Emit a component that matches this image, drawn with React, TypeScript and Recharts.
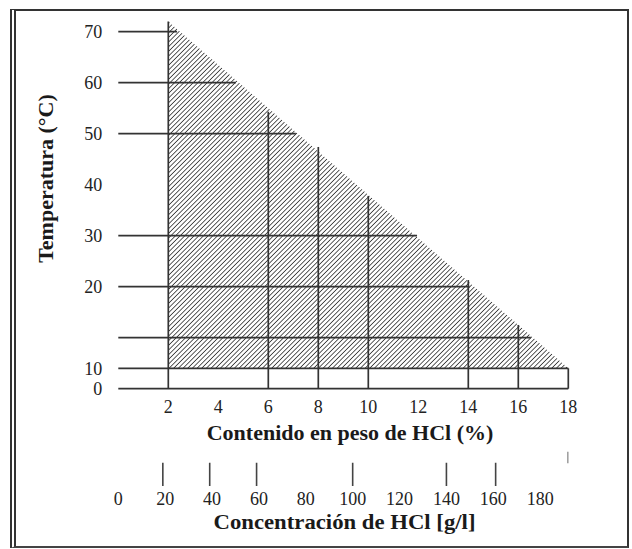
import { ComposedChart, Area, Scatter, XAxis, YAxis, ReferenceLine } from "recharts";

// % HCl axis
const pctTicks = [2, 4, 6, 8, 10, 12, 14, 16, 18];
// temperature axis: the bottom of the scale is squeezed, so the labels sit on their own positions
const tempTickPos = [0, 4, 10, 20, 30, 40, 50, 60, 70];
const tempTickLabels = ["0", "10", "", "20", "30", "40", "50", "60", "70"];
// g/l axis
const concTicks = [0, 20, 40, 60, 80, 100, 120, 140, 160, 180];
const concMarks = [19, 39, 59, 100, 140, 161, 192];
const concMarkLevel = [0.35, 0.35, 0.35, 0.35, 0.35, 0.35, 0.82];

// hatched zone: upper edge from (2 %, 72) down to (18 %, 4), floor at 4
const zonePct = [2, 18];
const zoneTop = [72, 4];
const zoneFloor = 4;

// horizontal rules: level and where they stop (in %)
const hLevels = [70, 60, 50, 30, 20, 10, 4, 0];
const hEnds = [2.35, 4.7, 7.1, 11.95, 14.05, 16.5, 18, 18];

// vertical rules: % position and top level
const vPos = [2, 6, 8, 10, 14, 16, 18];
const vTops = [72, 54.3, 47.4, 37.8, 21.3, 12.5, 4];

const FONT = "'Liberation Serif', 'Times New Roman', serif";
const INK = "#333";

const zoneData = zonePct.map((p, i) => ({ pct: p, temp: zoneTop[i] }));
const markData = concMarks.map((c, i) => ({ conc: c, level: concMarkLevel[i] }));

function MarkShape(props: any) {
  const { cx, cy, payload } = props;
  const half = payload.level > 0.5 ? 5.8 : 11.6;
  return <line x1={cx} x2={cx} y1={cy - half} y2={cy + half} stroke="#444" strokeWidth={1.6} />;
}

export default function App() {
  const tickStyle = { fontSize: 18, fill: "#222", fontFamily: FONT };
  const titleProps = {
    fontSize: 22,
    fontWeight: "bold" as const,
    fontFamily: FONT,
    fill: "#1a1a1a",
    textAnchor: "middle" as const,
  };

  return (
    <div style={{ position: "absolute", left: 0, top: 0, width: 632, height: 549, background: "#fff" }}>
      <div
        style={{
          position: "absolute",
          left: 10,
          top: 9,
          width: 619,
          height: 539,
          boxSizing: "border-box",
          borderTop: "2px solid #333",
          borderRight: "2px solid #333",
          borderBottom: "2px solid #444",
          borderLeft: "6px double #333",
        }}
      />

      {/* main diagram: temperature vs % HCl */}
      <div style={{ position: "absolute", left: 0, top: 0 }}>
        <ComposedChart
          width={632}
          height={549}
          margin={{ top: 21.5, right: 63.7, bottom: 86.3, left: 58.3 }}
        >
          <defs>
            <pattern
              id="hatch"
              patternUnits="userSpaceOnUse"
              width={3.3}
              height={3.3}
              patternTransform="rotate(45)"
            >
              <line x1={0} y1={0} x2={0} y2={3.3} stroke="#333" strokeWidth={1.6} />
            </pattern>
          </defs>

          <XAxis
            xAxisId="pct"
            dataKey="pct"
            type="number"
            domain={[0, 18]}
            allowDataOverflow
            ticks={pctTicks}
            interval={0}
            height={74}
            axisLine={false}
            tickLine={false}
            tickSize={0}
            tickMargin={12}
            tick={tickStyle}
          />
          <YAxis
            type="number"
            domain={[0, 72]}
            allowDataOverflow
            ticks={tempTickPos}
            interval={0}
            width={60}
            axisLine={false}
            tickLine={false}
            tickSize={0}
            tickMargin={16}
            tick={tickStyle}
            tickFormatter={(v: number) => tempTickLabels[tempTickPos.indexOf(v)] ?? ""}
          />

          <Area
            xAxisId="pct"
            data={zoneData}
            dataKey="temp"
            type="linear"
            baseValue={zoneFloor}
            stroke="none"
            fill="url(#hatch)"
            fillOpacity={1}
            isAnimationActive={false}
            activeDot={false}
            dot={false}
          />

          {hLevels.map((t, i) => (
            <ReferenceLine
              key={`h${i}`}
              xAxisId="pct"
              segment={[
                { x: 0, y: t },
                { x: hEnds[i], y: t },
              ]}
              stroke={INK}
              strokeWidth={1.7}
            />
          ))}
          {vPos.map((p, i) => (
            <ReferenceLine
              key={`v${i}`}
              xAxisId="pct"
              segment={[
                { x: p, y: 0 },
                { x: p, y: vTops[i] },
              ]}
              stroke={INK}
              strokeWidth={1.7}
            />
          ))}

          <text x={350} y={440} {...titleProps}>
            Contenido en peso de HCl (%)
          </text>
          <text transform="translate(53,178.5) rotate(-90)" {...titleProps}>
            Temperatura (°C)
          </text>
        </ComposedChart>
      </div>

      {/* second scale: concentration in g/l */}
      <div style={{ position: "absolute", left: 0, top: 0 }}>
        <ComposedChart
          width={632}
          height={549}
          margin={{ top: 451, right: 63.7, bottom: 32, left: 118.3 }}
        >
          <XAxis
            xAxisId="conc"
            dataKey="conc"
            type="number"
            domain={[0, 192]}
            allowDataOverflow
            ticks={concTicks}
            interval={0}
            height={30}
            axisLine={false}
            tickLine={false}
            tickSize={0}
            tickMargin={5.5}
            tick={tickStyle}
          />
          <YAxis yAxisId="band" type="number" domain={[0, 1]} hide />
          <Scatter
            xAxisId="conc"
            yAxisId="band"
            data={markData}
            dataKey="level"
            shape={MarkShape}
            isAnimationActive={false}
          />
          <text
            x={344.5}
            y={528.5}
            {...titleProps}
            fontSize={21}
            textLength={262}
            lengthAdjust="spacingAndGlyphs"
          >
            Concentración de HCl [g/l]
          </text>
        </ComposedChart>
      </div>
    </div>
  );
}
